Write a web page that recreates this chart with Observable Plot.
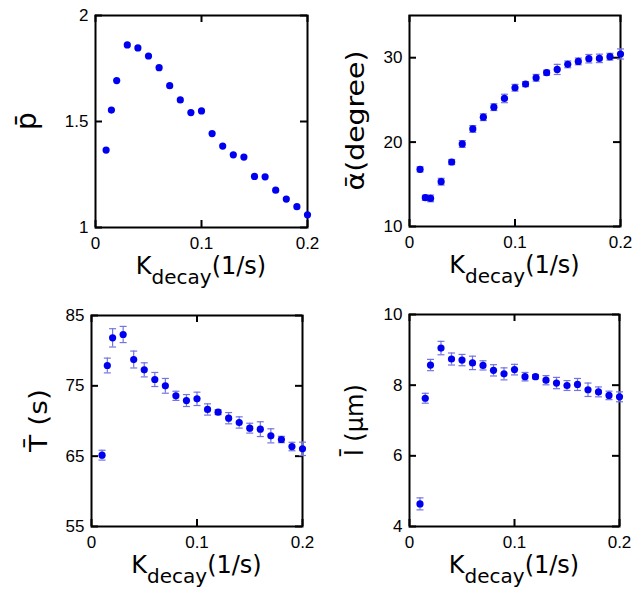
<!DOCTYPE html>
<html>
<head>
<meta charset="utf-8">
<script src="https://cdn.jsdelivr.net/npm/d3@7"></script>
<script src="https://cdn.jsdelivr.net/npm/@observablehq/plot@0.6"></script>
<style>
  html, body { margin: 0; padding: 0; background: #fff; }
  #root { position: relative; width: 642px; height: 592px; overflow: hidden; }
  .panel { position: absolute; }
</style>
</head>
<body>
<div id="root"></div>
<script>
// ---- data ----
const kDecay = [0.01, 0.015, 0.02, 0.03, 0.04, 0.05, 0.06, 0.07, 0.08, 0.09, 0.10,
                0.11, 0.12, 0.13, 0.14, 0.15, 0.16, 0.17, 0.18, 0.19, 0.20];
const pBar = [1.365, 1.554, 1.693, 1.861, 1.847, 1.809, 1.754, 1.669, 1.602, 1.542, 1.550,
              1.443, 1.384, 1.343, 1.332, 1.241, 1.239, 1.176, 1.134, 1.098, 1.060];
const alphaBar = [16.77, 13.41, 13.33, 15.31, 17.64, 19.78, 21.56, 22.95, 24.14, 25.17, 26.44,
                  26.87, 27.62, 28.22, 28.61, 29.21, 29.56, 29.88, 29.92, 30.12, 30.44];
const alphaErr = [0.3, 0.3, 0.4, 0.4, 0.3, 0.4, 0.4, 0.4, 0.4, 0.5, 0.4,
                  0.3, 0.4, 0.3, 0.6, 0.4, 0.4, 0.5, 0.5, 0.4, 0.6];
const TBar = [65.14, 77.89, 81.82, 82.30, 78.74, 77.27, 75.90, 75.00, 73.58, 72.91, 73.15,
              71.64, 71.26, 70.40, 69.79, 68.98, 68.84, 67.89, 67.37, 66.37, 66.04];
const TErr = [0.7, 1.05, 1.3, 1.15, 1.2, 1.0, 1.0, 1.05, 0.65, 0.85, 0.95,
              0.8, 0.35, 0.8, 0.8, 0.7, 1.05, 1.0, 0.45, 0.6, 0.95];
const lBar = [4.64, 7.63, 8.57, 9.05, 8.74, 8.71, 8.63, 8.56, 8.42, 8.32, 8.44,
              8.24, 8.24, 8.14, 8.06, 7.99, 8.02, 7.87, 7.81, 7.71, 7.67];
const lErr = [0.17, 0.14, 0.16, 0.19, 0.17, 0.16, 0.19, 0.13, 0.16, 0.17, 0.15,
              0.12, 0.06, 0.13, 0.16, 0.14, 0.17, 0.19, 0.14, 0.12, 0.14];

const xTicks = [0, 0.1, 0.2];
const xTickLabels = ["0", "0.1", "0.2"];

const panels = [
  {left: 0, top: 0, mL: 95, mR: 14, mT: 15, mB: 69, y: pBar, err: null,
   yDomain: [1, 2], yTicks: [1, 1.5, 2], yTickLabels: ["1", "1.5", "2"], yLabel: "p\u0304", yLabelOff: 59, yLabelLen: null, yLabelSize: 28},
  {left: 321, top: 0, mL: 88, mR: 22, mT: 15, mB: 70, y: alphaBar, err: alphaErr,
   yDomain: [10, 35], yTicks: [10, 20, 30], yTickLabels: ["10", "20", "30"], yLabel: "\u03b1\u0304(degree)", yLabelOff: 45, yLabelLen: 140, yLabelSize: 25},
  {left: 0, top: 296, mL: 91, mR: 19, mT: 19, mB: 66, y: TBar, err: TErr,
   yDomain: [55, 85], yTicks: [55, 65, 75, 85], yTickLabels: ["55", "65", "75", "85"], yLabel: "T\u0304 (s)", yLabelOff: 44, yLabelLen: 63, yLabelSize: 25},
  {left: 321, top: 296, mL: 88, mR: 23, mT: 18, mB: 66, y: lBar, err: lErr,
   yDomain: [4, 10], yTicks: [4, 6, 8, 10], yTickLabels: ["4", "6", "8", "10"], yLabel: "l\u0304 (\u03bcm)", yLabelOff: 46, yLabelLen: 72, yLabelSize: 25}
];

const W = 321, H = 296, TICK = 7;
const dotColor = "#0000f0", errColor = "#7474e0";
const capSymbol = {draw(ctx, size) { const w = Math.sqrt(size / Math.PI); ctx.moveTo(-w, 0); ctx.lineTo(w, 0); }};

const root = document.getElementById("root");

panels.forEach(p => {
  const iw = W - p.mL - p.mR, ih = H - p.mT - p.mB;
  const data = kDecay.map((k, i) => ({k, v: p.y[i], e: p.err ? p.err[i] : 0}));
  const marks = [
    Plot.axisX(xTicks, {tickSize: 0, tickPadding: 9, fontSize: 17, label: null, tickFormat: (d, i) => xTickLabels[i]}),
    Plot.axisY(p.yTicks, {tickSize: 0, tickPadding: 7, fontSize: 17, label: null, tickFormat: (d, i) => p.yTickLabels[i]}),
    Plot.tickX(xTicks, {x: d => d, insetTop: ih - TICK, stroke: "black", strokeWidth: 2}),
    Plot.tickX(xTicks, {x: d => d, insetBottom: ih - TICK, stroke: "black", strokeWidth: 2}),
    Plot.tickY(p.yTicks, {y: d => d, insetRight: iw - TICK, stroke: "black", strokeWidth: 2}),
    Plot.tickY(p.yTicks, {y: d => d, insetLeft: iw - TICK, stroke: "black", strokeWidth: 2}),
    Plot.frame({stroke: "black", strokeWidth: 2})
  ];
  if (p.err) {
    marks.push(
      Plot.ruleX(data, {x: "k", y1: d => d.v - d.e, y2: d => d.v + d.e, stroke: errColor, strokeWidth: 1.2}),
      Plot.dot(data, {x: "k", y: d => d.v - d.e, symbol: capSymbol, r: 3.5, stroke: errColor, strokeWidth: 1.2, fill: "none"}),
      Plot.dot(data, {x: "k", y: d => d.v + d.e, symbol: capSymbol, r: 3.5, stroke: errColor, strokeWidth: 1.2, fill: "none"})
    );
  }
  marks.push(Plot.dot(data, {x: "k", y: "v", r: 3.6, fill: dotColor, stroke: "none"}));

  const svg = Plot.plot({
    width: W, height: H,
    marginLeft: p.mL, marginRight: p.mR, marginTop: p.mT, marginBottom: p.mB,
    style: {fontFamily: "'Liberation Sans', Arial, sans-serif", fontSize: "17px", color: "black", background: "white", overflow: "visible"},
    x: {domain: [0, 0.2], axis: null},
    y: {domain: p.yDomain, axis: null},
    marks
  });

  const s = d3.select(svg);
  // x-axis label with subscript
  const xl = s.append("text")
    .attr("x", p.mL + iw / 2).attr("y", p.mT + ih + 47)
    .attr("text-anchor", "middle")
    .attr("font-family", "'DejaVu Sans', sans-serif")
    .attr("font-size", 24)
    .attr("fill", "black");
  xl.append("tspan").text("K");
  xl.append("tspan").attr("font-size", 20).attr("dy", 10).text("decay");
  xl.append("tspan").attr("dy", -10).text("(1/s)");
  // y-axis label
  const yl = s.append("text")
    .attr("transform", `translate(${p.mL - p.yLabelOff},${p.mT + ih / 2}) rotate(-90)`)
    .attr("text-anchor", "middle")
    .attr("font-family", "'DejaVu Sans', sans-serif")
    .attr("font-size", p.yLabelSize)
    .attr("fill", "black")
    .text(p.yLabel);
  if (p.yLabelLen) yl.attr("textLength", p.yLabelLen).attr("lengthAdjust", "spacingAndGlyphs");

  const div = document.createElement("div");
  div.className = "panel";
  div.style.left = p.left + "px";
  div.style.top = p.top + "px";
  div.appendChild(svg);
  root.appendChild(div);
});
</script>
</body>
</html>
